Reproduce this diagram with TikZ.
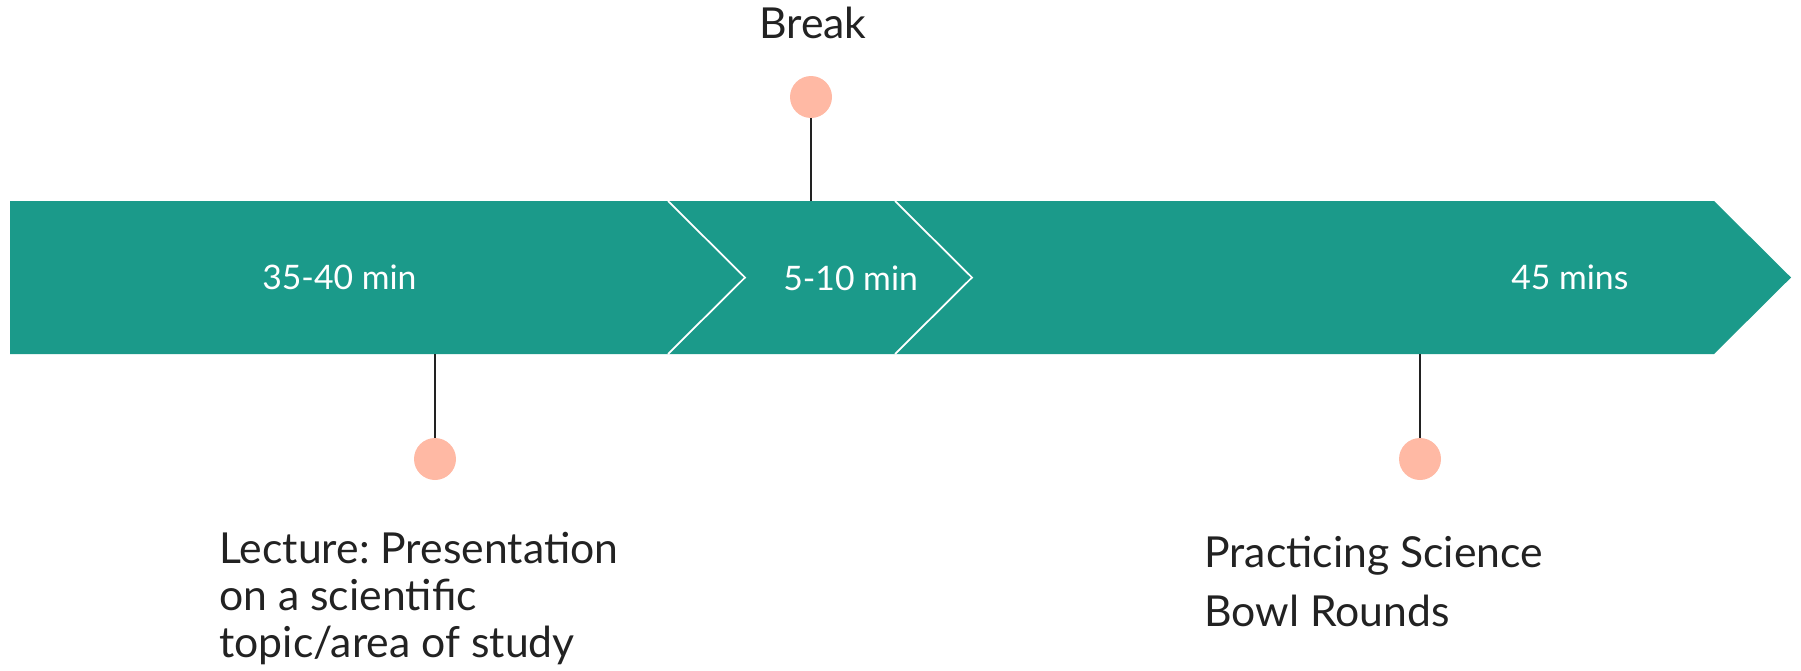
\documentclass[tikz,border=0pt]{standalone}
\usepackage{fontspec}
\setmainfont{Lato}
\frenchspacing
\definecolor{barteal}{HTML}{1B9A8A}
\definecolor{dotpink}{HTML}{FFB9A4}
\definecolor{inkgray}{HTML}{222222}

\begin{document}
\begin{tikzpicture}[x=0.02cm,y=-0.02cm,
  dot/.style={circle,fill=dotpink,inner sep=0pt,minimum size=0.84cm},
  pin/.style={draw=inkgray,line width=0.03cm},
  dur/.style={text=white,font=\fontsize{19.2}{22}\selectfont,anchor=base west,inner sep=0pt},
  lbl/.style={text=inkgray,font=\fontsize{24.3}{29}\selectfont,anchor=base west,inner sep=0pt}]
\useasboundingbox (0,0) rectangle (1801,670);

% the timeline arrow
\fill[barteal] (10,201) -- (1714,201) -- (1791,277.5) -- (1714,354) -- (10,354) -- cycle;
\draw[white,line width=0.035cm] (668,201) -- (745,277.5) -- (668,354);
\draw[white,line width=0.035cm] (895,201) -- (972,277.5) -- (895,354);

\node[dur] (durlecture) at (262,289) {35-40 min};
\node[dur] (durbreak) at (783,290) {5-10 min};
\node[dur] (durpractice) at (1511,289) {45 mins};

% pins
\node[dot] (dotbreak) at (811,97) {};
\node[dot] (dotlecture) at (435,459) {};
\node[dot] (dotpractice) at (1420,459) {};
\coordinate (breakfoot) at (811,201);
\coordinate (lecturehead) at (435,354);
\coordinate (practicehead) at (1420,354);
\draw[pin] (dotbreak) -- (breakfoot);
\draw[pin] (lecturehead) -- (dotlecture);
\draw[pin] (practicehead) -- (dotpractice);

% labels
\node[lbl,anchor=base] (lblbreak) at (813,38) {Break};
\node[lbl] (lecA) at (219,563) {Lecture: Presenta\kern0pt tion};
\node[lbl] (lecB) at (219,610) {on a scien\kern0pt tific};
\node[lbl] (lecC) at (219,657) {topic/area of study};
\node[lbl] (pracA) at (1204,567) {Practicing Science};
\node[lbl] (pracB) at (1204,626) {Bowl Rounds};

\end{tikzpicture}
\end{document}
